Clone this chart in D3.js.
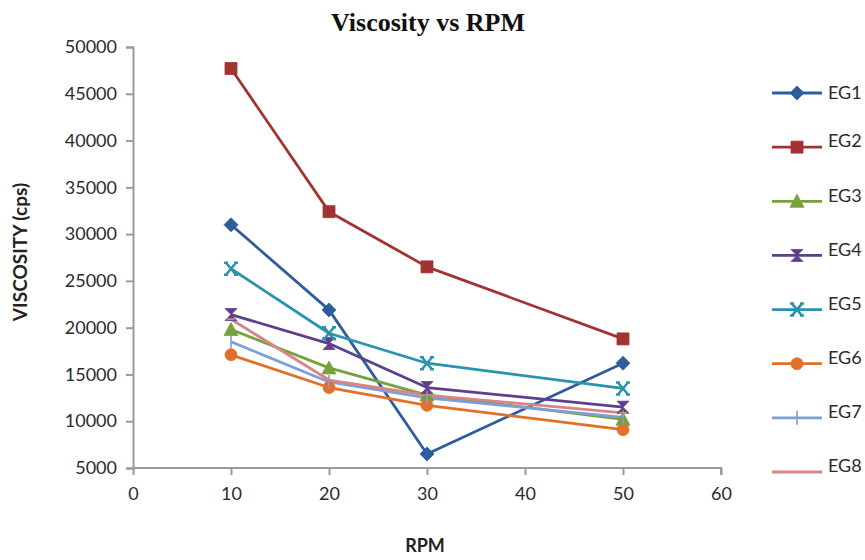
<!DOCTYPE html>
<html><head><meta charset="utf-8">
<script src="https://cdn.jsdelivr.net/npm/d3@7"></script>
<style>body{margin:0;background:#fff}svg{display:block}</style>
</head><body><svg id="c" width="865" height="560"></svg>
<script>
const rpm = [10, 20, 30, 50];
const seriesNames = ["EG1","EG2","EG3","EG4","EG5","EG6","EG7","EG8"];
const EG1 = [31000, 21900, 6500, 16200];
const EG2 = [47700, 32400, 26500, 18800];
const EG3 = [19800, 15700, 12800, 10200];
const EG4 = [21400, 18300, 13600, 11500];
const EG5 = [26300, 19400, 16200, 13500];
const EG6 = [17100, 13600, 11700, 9100];
const EG7 = [18500, 14200, 12500, 10400];
const EG8 = [20900, 14400, 12800, 10900];
const xTicks = [0, 10, 20, 30, 40, 50, 60];
const yTicks = [5000,10000,15000,20000,25000,30000,35000,40000,45000,50000];
const colors = ["#2F5C9E","#A33232","#76A23D","#5D3F8A","#2B93AC","#E2702A","#7E9ED8","#D98585"];
const markers = ["diamond","square","triangle","hourglass","star","circle","plus","dash"];
const values = [EG1,EG2,EG3,EG4,EG5,EG6,EG7,EG8];

const svg = d3.select("#c");
svg.append("rect").attr("width",865).attr("height",560).attr("fill","#fff");
const x = d3.scaleLinear().domain([0,60]).range([133,721]);
const y = d3.scaleLinear().domain([5000,50000]).range([468,47]);

function markerPath(type, s){
  const h = s/2;
  switch(type){
    case "diamond": return `M0,${-h-1}L${h+1},0L0,${h+1}L${-h-1},0Z`;
    case "square": return `M${-h},${-h}H${h}V${h}H${-h}Z`;
    case "triangle": return `M0,${-h-1}L${h+1},${h}L${-h-1},${h}Z`;
    case "hourglass": return `M${-h},${-h}H${h}L0,0L${h},${h}H${-h}L0,0Z`;
    case "star": return `M${-h+1},${-h}L${h-1},${h}M${h-1},${-h}L${-h+1},${h}` +
      `M${-h-1},${-h}H${-h+3}M${h-3},${-h}H${h+1}M${-h-1},${h}H${-h+3}M${h-3},${h}H${h+1}`;
    case "circle": return d3.symbol(d3.symbolCircle, Math.PI*h*h)();
    case "plus": return `M0,${-h-1}V${h+1}`;
    case "dash": return `M${-h+2},0H${h-2}`;
  }
}
function drawMarker(g, type, color){
  const s = 12;
  const p = g.append("path").attr("d", markerPath(type, s));
  if(type==="star"){ p.attr("fill","none").attr("stroke",color).attr("stroke-width",2.6); }
  else if(type==="plus" || type==="dash"){ p.attr("fill","none").attr("stroke",color).attr("stroke-width",1.6); }
  else { p.attr("fill",color).attr("stroke",color).attr("stroke-width",0.8); }
}

// axes
const axisColor = "#9a9a9a";
const gx = svg.append("g").attr("transform","translate(0,468)")
  .call(d3.axisBottom(x).tickValues(xTicks).tickSize(7).tickPadding(12));
const gy = svg.append("g").attr("transform","translate(133,0)")
  .call(d3.axisLeft(y).tickValues(yTicks).tickFormat(d3.format("d")).tickSize(7).tickPadding(9));
[gx,gy].forEach(g=>{
  g.select(".domain").attr("stroke",axisColor).attr("stroke-width",2);
  g.selectAll(".tick line").attr("stroke",axisColor).attr("stroke-width",2);
  g.selectAll(".tick text").attr("fill","#2b2b2b").style("font-family","Lato, 'Open Sans', sans-serif").style("font-size","18px");
});
gx.select(".domain").attr("d","M133,0H721V7");

// series
const line = d3.line().x((d,i)=>x(rpm[i])).y(d=>y(d));
values.forEach((vals, si)=>{
  svg.append("path").datum(vals).attr("d", line).attr("fill","none")
    .attr("stroke", colors[si]).attr("stroke-width", 2.8).attr("stroke-linejoin","round");
});
values.forEach((vals, si)=>{
  vals.forEach((v,i)=>{
    const g = svg.append("g").attr("transform",`translate(${x(rpm[i])},${y(v)})`);
    drawMarker(g, markers[si], colors[si]);
  });
});

// legend
const ly = d3.scalePoint().domain(seriesNames).range([93,472]);
seriesNames.forEach((n, si)=>{
  const yy = ly(n);
  svg.append("line").attr("x1",772).attr("x2",822).attr("y1",yy).attr("y2",yy)
    .attr("stroke",colors[si]).attr("stroke-width",2.8);
  const g = svg.append("g").attr("transform",`translate(797,${yy})`);
  drawMarker(g, markers[si], colors[si]);
  svg.append("text").attr("x",828).attr("y", yy - (si===0?0:6)).attr("dy","0.35em")
    .attr("fill","#2b2b2b").style("font-family","Lato, 'Open Sans', sans-serif").style("font-size","18px")
    .text(n);
});

// titles
svg.append("text").attr("x",428).attr("y",31).attr("text-anchor","middle")
  .style("font-family","'Liberation Serif', 'Times New Roman', serif").style("font-weight","bold").style("font-size","26px")
  .attr("fill","#111").text("Viscosity vs RPM");
svg.append("text").attr("x",425).attr("y",552).attr("text-anchor","middle")
  .style("font-family","Lato, 'Open Sans', sans-serif").style("font-weight","bold").style("font-size","18px")
  .attr("fill","#222").text("RPM");
svg.append("text").attr("transform","translate(27,252) rotate(-90)").attr("text-anchor","middle")
  .style("font-family","Lato, 'Open Sans', sans-serif").style("font-weight","bold").style("font-size","19px")
  .attr("fill","#222").text("VISCOSITY (cps)");
</script></body></html>
